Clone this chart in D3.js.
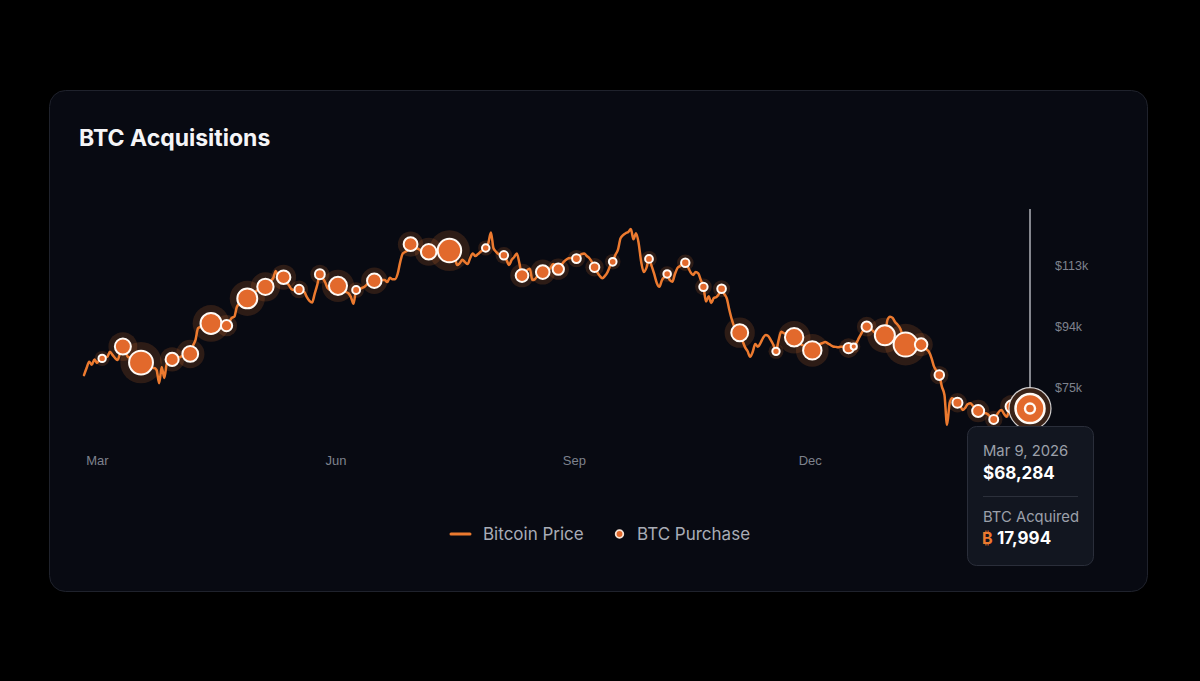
<!DOCTYPE html>
<html><head><meta charset="utf-8">
<script src="https://cdn.jsdelivr.net/npm/d3@7"></script>
<style>
html,body{margin:0;padding:0;background:#000;}
svg{display:block;font-family:Inter,"Noto Sans","DejaVu Sans",sans-serif;}
</style></head><body>
<svg id="chart" width="1200" height="681"></svg>
<script>
// ---- data ----
const chartTitle = "BTC Acquisitions";
const priceStart = "2025-03-09"; // first day of the daily price series
const btcPrice = [
78700,80900,82900,81900,83600,82500,83400,83900,84300,84400,
86000,85000,84000,83400,85900,87600,86200,84300,84300,83400,
83100,82800,82600,81900,81200,81500,80900,80900,80300,76200,
81200,77800,82500,82800,83600,84000,84300,84300,84700,84700,
85000,85300,87800,89600,93300,93700,94000,94300,94600,94800,
94600,94300,94300,94000,94300,94100,95200,96500,96900,100000,
100900,101200,101500,102600,103300,104000,104600,105200,105500,105800,
106200,107100,108000,108900,111100,109400,109000,109200,107700,106800,
105500,105200,105200,105400,104900,104600,103000,101800,101300,104000,
106800,110100,109000,107700,105800,105200,105500,106100,106500,106100,
105200,104600,104200,103000,100900,105200,105200,105800,106100,106800,
107400,107700,108100,108000,108000,108300,108300,107700,109000,108600,
108600,110200,113900,116600,117100,117700,119500,118900,118300,118000,
117400,116700,117000,117100,117400,117400,117400,117400,117100,117400,
117400,117500,115800,115200,113000,113600,114600,113900,113300,115200,
116600,115800,116400,117100,117700,118300,119800,123100,118200,117100,
116400,116100,116000,114600,113000,114600,115500,116600,113500,109700,
110200,111400,111800,108300,108600,109600,110200,110800,111100,111400,
112100,113300,112700,111700,112700,113900,114600,115100,115200,115200,
115000,115800,116400,116600,115800,115100,113900,112300,110800,109600,
108900,109600,110800,112700,114000,116100,117700,121300,122300,122900,
123300,124200,121000,122900,119800,113900,110800,112100,114900,112700,
110200,107400,106200,108300,109300,110200,108300,107800,110200,112100,
112700,113600,113700,112400,110800,109900,110800,110400,108300,106200,
101600,103300,101200,102700,103000,104000,105600,104000,102600,99000,
95900,93700,93100,91900,89600,87500,86200,84400,85900,88400,
87500,88700,90300,91200,90900,89600,88100,86100,89600,92200,
91800,91500,91200,90900,90500,89600,88700,88100,87800,87100,
86800,86400,87500,88100,88400,88700,89000,88600,88100,87600,
87500,87400,87500,87500,87200,87100,87100,87600,88700,90300,
91800,93100,93800,93400,92800,92100,91800,91500,91200,91100,
95900,96900,96500,95200,94300,93100,90600,88200,88100,88400,
88700,88100,88100,88200,87800,86800,86000,84000,81300,80000,
78700,75100,72500,63200,70000,71500,71000,70100,69400,67800,
68500,69700,69900,69100,68100,67500,67200,66900,66800,66300,
65300,64900,66000,67300,67800,66600,65700,67800,68900,71000,
72000,71000,70000,69100,69400,68284
];
const purchaseDates = [
"2025-03-16","2025-03-24","2025-03-31","2025-04-12","2025-04-19","2025-04-27","2025-05-03",
"2025-05-11","2025-05-18","2025-05-25","2025-05-31","2025-06-08","2025-06-15","2025-06-22",
"2025-06-29","2025-07-13","2025-07-20","2025-07-28","2025-08-11","2025-08-18","2025-08-25",
"2025-09-02","2025-09-08","2025-09-15","2025-09-22","2025-09-29","2025-10-13","2025-10-20",
"2025-10-27","2025-11-03","2025-11-10","2025-11-17","2025-12-01","2025-12-08","2025-12-15",
"2025-12-29","2025-12-31","2026-01-05","2026-01-12","2026-01-20","2026-01-26","2026-02-02",
"2026-02-09","2026-02-17","2026-02-23","2026-03-02","2026-03-09"
];
const purchaseBTC = [
130,6911,22048,3459,6556,15355,1895,13390,7390,4020,705,1045,10100,245,4980,4225,6220,21021,
155,430,3081,4048,1955,525,850,196,220,168,390,397,487,8178,130,10624,10645,1229,3,1287,
13627,22305,2932,855,1142,2486,592,3015,17994
];
const yTickValues = [75000, 94000, 113000];
const xTickDates = ["2025-03-14","2025-06-14","2025-09-14","2025-12-14"];
const legendLabels = ["Bitcoin Price", "BTC Purchase"];
const tooltipLabel = "BTC Acquired";
const activeIndex = purchaseDates.length - 1;

// ---- colours ----
const ORANGE_LINE = "#ec7a2f";
const ORANGE_DOT = "#e2692c";
const GREY = "#7e828d";

const parse = d3.utcParse("%Y-%m-%d");
const start = parse(priceStart);
const prices = btcPrice.map((p, i) => ({date: d3.utcDay.offset(start, i), price: p}));
const purchases = purchaseDates.map((s, i) => {
  const date = parse(s);
  const idx = d3.utcDay.count(start, date);
  return {date, btc: purchaseBTC[i], price: btcPrice[idx]};
});

const svg = d3.select("#chart");

// card
svg.append("rect").attr("x", 49.5).attr("y", 90.5).attr("width", 1098).attr("height", 501)
  .attr("rx", 16).attr("fill", "#080a12").attr("stroke", "#1f222c").attr("stroke-width", 1);

svg.append("text").attr("x", 79).attr("y", 146).text(chartTitle)
  .attr("font-size", 23).attr("font-weight", 700).attr("fill", "#f5f5f7");

// scales
const x = d3.scaleUtc().domain([start, prices[prices.length - 1].date]).range([84, 1030]);
const y = d3.scaleLinear().domain([56000, 132000]).range([448, 204]);
const r = d3.scaleSqrt().domain([0, d3.max(purchaseBTC)]).range([3, 12]);

// axes
const yAxis = svg.append("g").attr("transform", "translate(1055,0)")
  .call(d3.axisRight(y).tickValues(yTickValues).tickSize(0).tickPadding(0)
    .tickFormat(d => "$" + Math.round(d / 1000) + "k"));
yAxis.select(".domain").remove();
yAxis.selectAll("text").attr("fill", GREY).attr("font-size", 12.5).attr("font-family", null);

const xAxis = svg.append("g").attr("transform", "translate(0,448)")
  .call(d3.axisBottom(x).tickValues(xTickDates.map(parse)).tickSize(0).tickPadding(7.5)
    .tickFormat(d3.utcFormat("%b")));
xAxis.select(".domain").remove();
xAxis.selectAll("text").attr("fill", GREY).attr("font-size", 13).attr("font-family", null);

// halos
const normal = purchases.filter((d, i) => i !== activeIndex);
svg.append("g").selectAll("circle").data(normal).join("circle")
  .attr("cx", d => x(d.date)).attr("cy", d => y(d.price))
  .attr("r", d => (r(d.btc) + 1) * 1.6)
  .attr("fill", "rgba(232,119,46,0.17)");

// price line
const line = d3.line().x(d => x(d.date)).y(d => y(d.price)).curve(d3.curveMonotoneX);
svg.append("path").datum(prices).attr("d", line).attr("fill", "none")
  .attr("stroke", ORANGE_LINE).attr("stroke-width", 2.5)
  .attr("stroke-linejoin", "round").attr("stroke-linecap", "round");

// purchase markers
svg.append("g").selectAll("circle").data(normal).join("circle")
  .attr("cx", d => x(d.date)).attr("cy", d => y(d.price))
  .attr("r", d => r(d.btc))
  .attr("fill", ORANGE_DOT).attr("stroke", "#fffaf5").attr("stroke-width", 2);

// active (hovered) purchase
const act = purchases[activeIndex];
const ax = x(act.date), ay = y(act.price);
svg.append("line").attr("x1", ax).attr("x2", ax).attr("y1", 209).attr("y2", ay - 21)
  .attr("stroke", "#c9cbd2").attr("stroke-width", 1.3);
svg.append("circle").attr("cx", ax).attr("cy", ay).attr("r", 21)
  .attr("fill", "#3a2318").attr("stroke", "rgba(255,255,255,0.8)").attr("stroke-width", 1.2);
svg.append("circle").attr("cx", ax).attr("cy", ay).attr("r", 14.5)
  .attr("fill", ORANGE_DOT).attr("stroke", "#fffaf5").attr("stroke-width", 2.5);
svg.append("circle").attr("cx", ax).attr("cy", ay).attr("r", 5)
  .attr("fill", ORANGE_DOT).attr("stroke", "#fffaf5").attr("stroke-width", 2.4);

// legend
const lg = svg.append("g");
lg.append("line").attr("x1", 451).attr("x2", 470).attr("y1", 534).attr("y2", 534)
  .attr("stroke", ORANGE_LINE).attr("stroke-width", 3).attr("stroke-linecap", "round");
lg.append("text").attr("x", 483).attr("y", 534).attr("dy", "0.35em").text(legendLabels[0])
  .attr("font-size", 17).attr("fill", "#a8acb6");
lg.append("circle").attr("cx", 619.5).attr("cy", 534).attr("r", 3.8)
  .attr("fill", ORANGE_DOT).attr("stroke", "#f7e4d6").attr("stroke-width", 1.8);
lg.append("text").attr("x", 637).attr("y", 534).attr("dy", "0.35em").text(legendLabels[1])
  .attr("font-size", 17).attr("fill", "#a8acb6");

// tooltip
const tt = svg.append("g");
tt.append("rect").attr("x", 967.5).attr("y", 426.5).attr("width", 126).attr("height", 139)
  .attr("rx", 9).attr("fill", "#121620").attr("stroke", "#2a2e3a");
tt.append("text").attr("x", 983).attr("y", 456).text(d3.utcFormat("%b %-d, %Y")(act.date))
  .attr("font-size", 14.8).attr("fill", "#9ca0aa");
tt.append("text").attr("x", 983).attr("y", 479).text(d3.format("$,")(act.price))
  .attr("font-size", 17).attr("font-weight", 700).attr("fill", "#ffffff");
tt.append("line").attr("x1", 983).attr("x2", 1078).attr("y1", 496.5).attr("y2", 496.5)
  .attr("stroke", "#2c303b");
tt.append("text").attr("x", 983).attr("y", 522).text(tooltipLabel)
  .attr("font-size", 14.8).attr("fill", "#9ca0aa");
tt.append("text").attr("x", 982).attr("y", 544).text("\u20BF")
  .attr("font-size", 16).attr("font-weight", 700).attr("fill", ORANGE_LINE);
tt.append("text").attr("x", 997).attr("y", 544).text(d3.format(",")(act.btc))
  .attr("font-size", 17).attr("font-weight", 700).attr("fill", "#ffffff");
</script>
</body></html>
